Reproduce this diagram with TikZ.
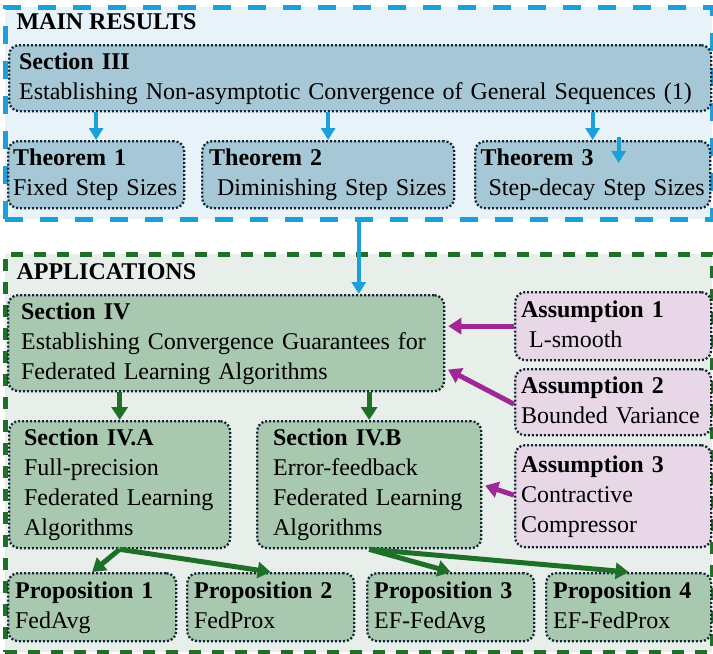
\documentclass[tikz,border=0pt]{standalone}
\usepackage{fontspec}
\setmainfont{Liberation Serif}
\usepackage{xcolor}
\usepackage{tikz}
\usetikzlibrary{arrows.meta,positioning}

\definecolor{arrblue}{RGB}{27,160,218}
\definecolor{mainfill}{RGB}{231,243,249}
\definecolor{thmfill}{RGB}{166,200,214}
\definecolor{dotline}{RGB}{20,36,52}
\definecolor{appgreen}{RGB}{30,112,40}
\definecolor{appfill}{RGB}{232,239,234}
\definecolor{secfill}{RGB}{168,200,176}
\definecolor{asmfill}{RGB}{231,215,231}
\definecolor{asmline}{RGB}{160,40,150}

\begin{document}
\begin{tikzpicture}[
  x=1pt, y=-1pt,
  every node/.style={font=\fontsize{24}{30}\selectfont},
  frame/.style={line width=4.5pt, anchor=north west, inner sep=0pt},
  card/.style={draw=dotline, line width=2.3pt, dash pattern=on 2pt off 2pt,
    rounded corners=10pt, anchor=north west, align=left, inner xsep=8pt, inner ysep=0pt,
    execute at begin node=\strut, execute at end node=\strut},
  thmbox/.style={card, fill=thmfill},
  secbox/.style={card, fill=secfill},
  asmbox/.style={card, fill=asmfill},
  heading/.style={anchor=west, font=\fontsize{24}{30}\selectfont\bfseries},
  bluearrow/.style={-{Triangle[length=12pt,width=14pt]}, line width=4pt, draw=arrblue},
  greenarrow/.style={-{Triangle[length=13pt,width=16pt]}, line width=5pt, draw=appgreen},
  asmarrow/.style={-{Triangle[length=13pt,width=16pt]}, line width=5pt, draw=asmline, shorten >=3pt}
]
\useasboundingbox (0,0) rectangle (713,654);

% containers
\node[frame, draw=arrblue, fill=mainfill, dash pattern=on 18pt off 17pt,
  minimum width=707pt, minimum height=212pt] (mainres) at (3,5) {};
\node[frame, draw=appgreen, fill=appfill, dash pattern=on 12pt off 11pt,
  minimum width=707pt, minimum height=398pt] (apps) at (3,252) {};
\node[heading] (mainlbl) at (13,22) {MAIN RESULTS};
\node[heading] (applbl) at (13,272) {APPLICATIONS};

% main results
\node[thmbox, inner xsep=10pt, text width=682pt, minimum height=66pt] (sec3) at (8,44)
  {\textbf{Section III}\\Establishing Non-asymptotic Convergence of General Sequences (1)};
\node[thmbox, inner xsep=5pt, text width=166pt, minimum height=67pt] (thm1) at (7,140)
  {\textbf{Theorem 1}\\Fixed Step Sizes};
\node[thmbox, inner xsep=7pt, text width=238pt, minimum height=67pt] (thm2) at (201,140)
  {\textbf{Theorem 2}\\\ Diminishing Step Sizes};
\node[thmbox, inner xsep=5.5pt, text width=224pt, minimum height=67pt] (thm3) at (474,140)
  {\textbf{Theorem 3}\\\ Step-decay Step Sizes};

% applications
\node[secbox, inner xsep=13pt, text width=410pt, minimum height=96pt] (sec4) at (7,294)
  {\textbf{Section IV}\\Establishing Convergence Guarantees for\\Federated Learning Algorithms};
\node[secbox, inner xsep=15pt, text width=191pt, minimum height=127pt] (sec4a) at (8,420)
  {\textbf{Section IV.A}\\Full-precision\\Federated Learning\\Algorithms};
\node[secbox, inner xsep=16pt, text width=192pt, minimum height=127pt] (sec4b) at (256,420)
  {\textbf{Section IV.B}\\Error-feedback\\Federated Learning\\Algorithms};
\node[asmbox, inner xsep=6pt, text width=184pt, minimum height=68pt] (asm1) at (514,291)
  {\textbf{Assumption 1}\\\ L-smooth};
\node[asmbox, inner xsep=6pt, text width=184pt, minimum height=66pt] (asm2) at (514,368)
  {\textbf{Assumption 2}\\Bounded Variance};
\node[asmbox, inner xsep=6pt, text width=184pt, minimum height=102pt] (asm3) at (514,444)
  {\textbf{Assumption 3}\\Contractive\\Compressor};
\node[secbox, inner xsep=7pt, text width=154pt, minimum height=68pt] (prop1) at (7,572)
  {\textbf{Proposition 1}\\FedAvg};
\node[secbox, inner xsep=7pt, text width=153pt, minimum height=68pt] (prop2) at (186,572)
  {\textbf{Proposition 2}\\FedProx};
\node[secbox, inner xsep=7pt, text width=153pt, minimum height=68pt] (prop3) at (366,572)
  {\textbf{Proposition 3}\\EF-FedAvg};
\node[secbox, inner xsep=7pt, text width=151pt, minimum height=68pt] (prop4) at (545,572)
  {\textbf{Proposition 4}\\EF-FedProx};

% arrows
\draw[bluearrow] (sec3.south -| thm1.north) -- (thm1.north);
\draw[bluearrow] (sec3.south -| thm2.north) -- (thm2.north);
\draw[bluearrow] (sec3.south -| thm3.north) -- (thm3.north);
\coordinate (straytop) at ([xshift=26pt,yshift=3pt]thm3.north);
\coordinate (straybot) at ([xshift=26pt,yshift=-23pt]thm3.north);
\draw[bluearrow] (straytop) -- (straybot);
\draw[bluearrow] (mainres.south) -- (mainres.south |- sec4.north);

\draw[greenarrow] (sec4.south -| sec4a.north) -- (sec4a.north);
\draw[greenarrow] (sec4.south -| sec4b.north) -- (sec4b.north);
\draw[greenarrow] (sec4a.south) -- (prop1.north);
\draw[greenarrow] (sec4a.south) -- (prop2.north);
\draw[greenarrow] (sec4b.south) -- (prop3.north);
\draw[greenarrow] (sec4b.south) -- (prop4.north);

\draw[asmarrow] (asm1.west) -- (asm1.west -| sec4.east);
\draw[asmarrow] ([yshift=-2pt]asm2.west) -- ([yshift=-25pt]sec4.east);
\draw[asmarrow] ([yshift=1pt]asm3.west) -- (sec4b.east);
\end{tikzpicture}
\end{document}
